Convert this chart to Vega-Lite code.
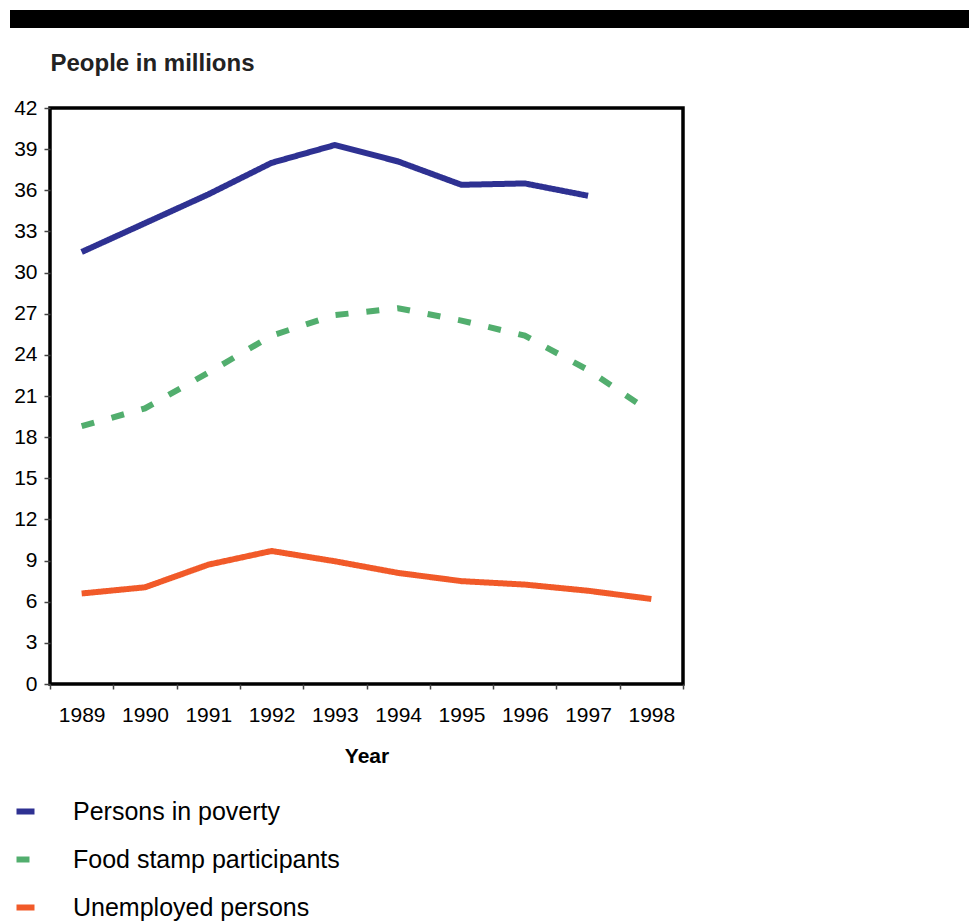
{
  "$schema": "https://vega.github.io/schema/vega-lite/v6.json",
  "padding": {"left": 10, "top": 10, "right": 0, "bottom": 0},
  "background": "white",
  "spacing": 21,
  "config": {"font": "Liberation Sans"},
  "vconcat": [
    {
      "width": 959,
      "height": 18,
      "view": {"fill": "black", "stroke": null},
      "data": {"values": [{"k": 1}]},
      "mark": {"type": "rect", "color": "black"},
      "encoding": {}
    },
    {
      "spacing": 0,
      "hconcat": [
        {
          "width": 1,
          "height": 576,
          "view": {"stroke": null},
          "data": {"values": [{"k": 1}]},
          "mark": {"type": "rect", "opacity": 0},
          "encoding": {}
        },
        {
          "width": 633,
          "height": 576,
          "view": {"stroke": "black", "strokeWidth": 3.5, "fill": "white"},
          "data": {
            "values": [
              {"year": "1989", "series": "Persons in poverty", "value": 31.5},
              {"year": "1990", "series": "Persons in poverty", "value": 33.6},
              {"year": "1991", "series": "Persons in poverty", "value": 35.7},
              {"year": "1992", "series": "Persons in poverty", "value": 38.0},
              {"year": "1993", "series": "Persons in poverty", "value": 39.3},
              {"year": "1994", "series": "Persons in poverty", "value": 38.1},
              {"year": "1995", "series": "Persons in poverty", "value": 36.4},
              {"year": "1996", "series": "Persons in poverty", "value": 36.5},
              {"year": "1997", "series": "Persons in poverty", "value": 35.6},
              {"year": "1989", "series": "Food stamp participants", "value": 18.8},
              {"year": "1990", "series": "Food stamp participants", "value": 20.1},
              {"year": "1991", "series": "Food stamp participants", "value": 22.7},
              {"year": "1992", "series": "Food stamp participants", "value": 25.4},
              {"year": "1993", "series": "Food stamp participants", "value": 26.9},
              {"year": "1994", "series": "Food stamp participants", "value": 27.4},
              {"year": "1995", "series": "Food stamp participants", "value": 26.5},
              {"year": "1996", "series": "Food stamp participants", "value": 25.4},
              {"year": "1997", "series": "Food stamp participants", "value": 22.9},
              {"year": "1998", "series": "Food stamp participants", "value": 19.8},
              {"year": "1989", "series": "Unemployed persons", "value": 6.6},
              {"year": "1990", "series": "Unemployed persons", "value": 7.05},
              {"year": "1991", "series": "Unemployed persons", "value": 8.7},
              {"year": "1992", "series": "Unemployed persons", "value": 9.7},
              {"year": "1993", "series": "Unemployed persons", "value": 8.95},
              {"year": "1994", "series": "Unemployed persons", "value": 8.1},
              {"year": "1995", "series": "Unemployed persons", "value": 7.5},
              {"year": "1996", "series": "Unemployed persons", "value": 7.25},
              {"year": "1997", "series": "Unemployed persons", "value": 6.8},
              {"year": "1998", "series": "Unemployed persons", "value": 6.2}
            ]
          },
          "mark": {"type": "line", "strokeCap": "butt", "strokeJoin": "miter"},
          "encoding": {
            "x": {
              "field": "year",
              "type": "ordinal",
              "scale": {"type": "band", "paddingInner": 0, "paddingOuter": 0},
              "axis": {
                "title": "Year",
                "labelAngle": 0,
                "domain": false,
                "tickBand": "extent",
                "tickSize": 5,
                "tickColor": "#444",
                "tickWidth": 1.5,
                "labelFontSize": 21,
                "labelPadding": 15,
                "labelColor": "black",
                "titleFontSize": 21,
                "titleFontWeight": "bold",
                "titleColor": "black",
                "titlePadding": 20
              }
            },
            "y": {
              "field": "value",
              "type": "quantitative",
              "scale": {"domain": [0, 42], "nice": false},
              "axis": {
                "values": [0, 3, 6, 9, 12, 15, 18, 21, 24, 27, 30, 33, 36, 39, 42],
                "grid": false,
                "domain": false,
                "tickSize": 6,
                "tickColor": "#444",
                "tickWidth": 1.5,
                "labelFontSize": 21,
                "labelPadding": 7,
                "labelColor": "black",
                "title": "People in millions",
                "titleAngle": 0,
                "titleX": 0,
                "titleY": -38,
                "titleAlign": "left",
                "titleBaseline": "alphabetic",
                "titleFontSize": 24,
                "titleFontWeight": "bold",
                "titleColor": "#222"
              }
            },
            "color": {
              "field": "series",
              "type": "nominal",
              "scale": {
                "domain": ["Persons in poverty", "Food stamp participants", "Unemployed persons"],
                "range": ["#2E3192", "#52AE6E", "#F15A29"]
              },
              "legend": {
                "title": null,
                "orient": "none",
                "legendX": 3,
                "legendY": 789,
                "direction": "vertical",
                "symbolType": "stroke",
                "symbolSize": 324,
                "symbolStrokeWidth": 5,
                "labelFontSize": 25,
                "labelColor": "black",
                "labelOffset": 35,
                "rowPadding": 22,
                "padding": 0,
                "labelLimit": 0,
                "encode": {
                  "symbols": {
                    "update": {
                      "strokeDash": {"signal": "datum.value === 'Food stamp participants' ? [7, 4] : [1, 0]"}
                    }
                  }
                }
              }
            },
            "strokeDash": {
              "field": "series",
              "type": "nominal",
              "scale": {
                "domain": ["Persons in poverty", "Food stamp participants", "Unemployed persons"],
                "range": [[1, 0], [13, 18], [1, 0]]
              },
              "legend": null
            },
            "strokeWidth": {
              "field": "series",
              "type": "nominal",
              "scale": {
                "domain": ["Persons in poverty", "Food stamp participants", "Unemployed persons"],
                "range": [6, 6, 4]
              },
              "legend": null
            }
          }
        }
      ]
    }
  ]
}
